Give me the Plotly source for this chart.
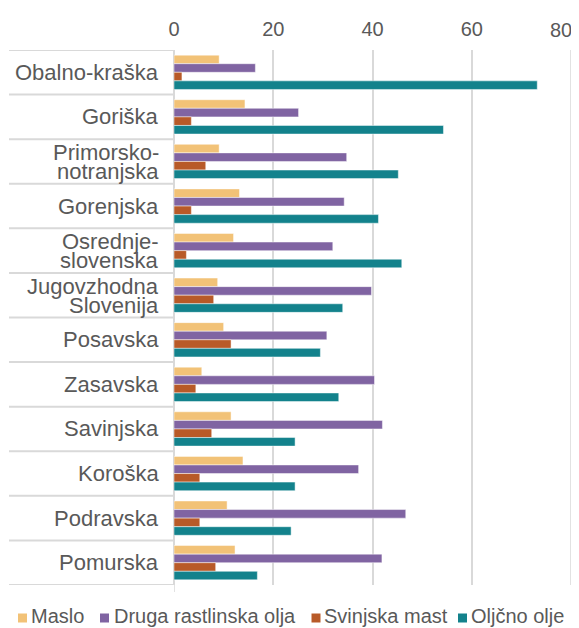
import plotly.graph_objects as go

regions = ["Obalno-kraška", "Goriška", "Primorsko-notranjska", "Gorenjska",
           "Osrednjeslovenska", "Jugovzhodna Slovenija", "Posavska", "Zasavska",
           "Savinjska", "Koroška", "Podravska", "Pomurska"]
region_lines = [["Obalno-kraška"], ["Goriška"], ["Primorsko-", "notranjska"], ["Gorenjska"],
                ["Osrednje-", "slovenska"], ["Jugovzhodna", "Slovenija"], ["Posavska"], ["Zasavska"],
                ["Savinjska"], ["Koroška"], ["Podravska"], ["Pomurska"]]

series_names = ["Maslo", "Druga rastlinska olja", "Svinjska mast", "Oljčno olje"]
maslo = [9.1, 14.3, 9.1, 13.2, 12.0, 8.8, 10.0, 5.6, 11.5, 13.9, 10.7, 12.3]
druga = [16.4, 25.1, 34.8, 34.3, 32.0, 39.8, 30.8, 40.4, 42.0, 37.2, 46.7, 41.9]
svinjska = [1.6, 3.5, 6.4, 3.5, 2.5, 8.0, 11.5, 4.4, 7.6, 5.2, 5.2, 8.4]
oljcno = [73.2, 54.3, 45.2, 41.2, 45.9, 34.0, 29.5, 33.2, 24.4, 24.4, 23.6, 16.8]
colors = ["#F2C277", "#8064A2", "#B85A28", "#13828C"]

x_ticks = [0, 20, 40, 60, 80]
x_tick_labels = ["0", "20", "40", "60", "80"]

FONT = "Liberation Sans"
TXT = "#595959"
GRID = "#D9D9D9"

# page is drawn with an 8px body offset; figure is sized to fill the rest of the window
W, H = 571, 620
ML, MR, MT, MB = 166, 8, 42, 43
PW = W - ML - MR      # plot width in px
PH = H - MT - MB      # plot height in px


def px_x(px):
    """figure px (from plot left edge) -> paper x"""
    return px / PW


def px_y(px):
    """figure px (below plot bottom, positive downward) -> paper y"""
    return -px / PH


fig = go.Figure()
for name, vals, col in zip(series_names, [maslo, druga, svinjska, oljcno], colors):
    fig.add_trace(go.Bar(
        y=regions, x=vals, name=name, orientation="h",
        marker=dict(color=col, line=dict(color="rgba(255,255,255,0.6)", width=0.8)),
        showlegend=False,
    ))

n = len(regions)
shapes = []
# category separators on the left side
for i in range(n + 1):
    shapes.append(dict(type="line", xref="paper", yref="y", x0=px_x(-165), x1=0,
                       y0=i - 0.5, y1=i - 0.5, line=dict(color=GRID, width=2)))
# small extension of the value-axis line below the plot
shapes.append(dict(type="line", xref="x", yref="paper", x0=0, x1=0, y0=0, y1=px_y(7),
                   line=dict(color=GRID, width=1.5)))
# gridline at the right edge of the value axis
shapes.append(dict(type="line", xref="x", yref="paper", x0=x_ticks[-1], x1=x_ticks[-1],
                   y0=0, y1=1, line=dict(color=GRID, width=1.5), layer="below"))

annotations = []
for i, lines in enumerate(region_lines):
    shifts = [0] if len(lines) == 1 else [9, -10]
    for txt, sh in zip(lines, shifts):
        annotations.append(dict(text=txt, xref="paper", yref="y", x=0, y=regions[i],
                                xanchor="right", yanchor="middle", xshift=-13, yshift=sh,
                                showarrow=False, font=dict(family=FONT, size=22, color=TXT)))

# last tick label is pulled inside the window, as in the reference
annotations.append(dict(text=x_tick_labels[-1], xref="x", yref="paper", x=x_ticks[-1], y=1,
                        xanchor="right", yanchor="middle", yshift=20, xshift=3,
                        showarrow=False, font=dict(family=FONT, size=20, color=TXT)))

# legend drawn as coloured squares + text below the plot
leg_sq_x = [18, 100, 311.5, 458]      # page px (left of square)
leg_txt_x = [29, 112, 322, 469]       # page px (start of text)
sq = 9
leg_cy = 616                           # page px (text centre)
for name, col, sx, tx in zip(series_names, colors, leg_sq_x, leg_txt_x):
    fx0 = sx - 8 - ML
    shapes.append(dict(type="rect", xref="paper", yref="paper",
                       x0=px_x(fx0), x1=px_x(fx0 + sq),
                       y0=px_y(622.5 - 8 - (MT + PH)), y1=px_y(613.5 - 8 - (MT + PH)),
                       fillcolor=col, line=dict(width=0)))
    annotations.append(dict(text=name, xref="paper", yref="paper",
                            x=px_x(tx - 8 - ML), y=px_y(leg_cy - 8 - (MT + PH)),
                            xanchor="left", yanchor="middle", showarrow=False,
                            font=dict(family=FONT, size=20, color=TXT)))

fig.update_layout(
    width=W, height=H,
    margin=dict(l=ML, r=MR, t=MT, b=MB, autoexpand=False),
    paper_bgcolor="white", plot_bgcolor="white",
    barmode="group", bargap=0.23, bargroupgap=0,
    font=dict(family=FONT, color=TXT),
    xaxis=dict(side="top", range=[0, 80], tickvals=x_ticks,
               ticktext=x_tick_labels[:-1] + [""], showgrid=True,
               gridcolor=GRID, gridwidth=1.5, zeroline=True, zerolinecolor=GRID,
               zerolinewidth=1.5, showline=False, ticks="", ticklabelstandoff=9,
               tickfont=dict(family=FONT, size=20, color=TXT)),
    yaxis=dict(type="category", range=[n - 0.5, -0.5], showticklabels=False,
               showgrid=False, zeroline=False, showline=False, ticks=""),
    shapes=shapes, annotations=annotations,
    showlegend=False,
)

fig.write_html("out.html")
